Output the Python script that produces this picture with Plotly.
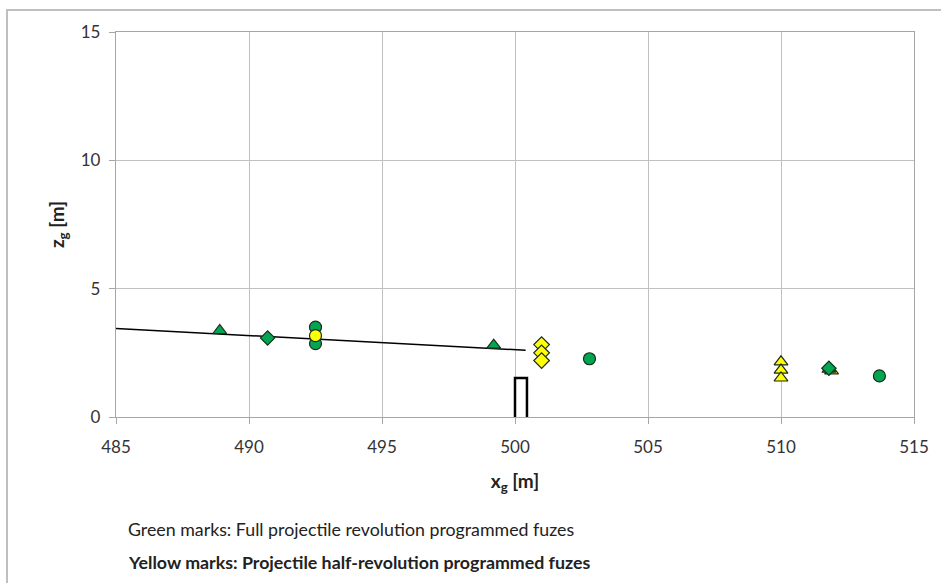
import plotly.graph_objects as go

# --- data ---
green_tri_x = [488.9, 499.2, 511.8]
green_tri_z = [3.37, 2.8, 1.86]
green_dia_x = [490.7, 511.8]
green_dia_z = [3.08, 1.9]
green_cir_x = [492.5, 492.5, 502.8, 513.7]
green_cir_z = [3.5, 2.86, 2.27, 1.6]
yellow_cir_x = [492.5]
yellow_cir_z = [3.17]
yellow_dia_x = [501.0, 501.0, 501.0]
yellow_dia_z = [2.82, 2.5, 2.2]
yellow_tri_x = [510.0, 510.0, 510.0, 511.9]
yellow_tri_z = [2.15, 1.83, 1.52, 1.8]
traj_x = [485.0, 500.4]
traj_z = [3.45, 2.6]
target_x = [500.0, 500.0, 500.45, 500.45]
target_z = [0.0, 1.52, 1.52, 0.0]

GREEN = "#00A651"
YELLOW = "#FFFF00"
EDGE = "#1b2b1b"

fig = go.Figure()
fig.add_trace(go.Scatter(x=traj_x, y=traj_z, mode="lines",
                         line=dict(color="black", width=1.5), showlegend=False))
fig.add_trace(go.Scatter(x=target_x, y=target_z, mode="lines",
                         line=dict(color="black", width=2.5), showlegend=False))

def pts(x, y, sym, col, size):
    fig.add_trace(go.Scatter(x=x, y=y, mode="markers", showlegend=False,
                             marker=dict(symbol=sym, color=col, size=size,
                                         line=dict(color=EDGE, width=1.2))))

pts(yellow_tri_x, yellow_tri_z, "triangle-up", YELLOW, 12)
pts(green_tri_x, green_tri_z, "triangle-up", GREEN, 12)
pts(green_dia_x, green_dia_z, "diamond", GREEN, 11)
pts(yellow_dia_x, yellow_dia_z, "diamond", YELLOW, 12)
pts(green_cir_x, green_cir_z, "circle", GREEN, 12)
pts(yellow_cir_x, yellow_cir_z, "circle", YELLOW, 12)

FONT = "Lato"
axis_common = dict(showgrid=True, gridcolor="#c0c0c0", gridwidth=1.3,
                   showline=True, linecolor="#a6a6a6", linewidth=1.3,
                   ticks="outside", tickcolor="#a6a6a6", ticklen=6,
                   zeroline=False, tickfont=dict(family=FONT, size=17, color="#333333"))

fig.update_xaxes(range=[485, 515], dtick=5, mirror=True, ticklabelstandoff=8,
                 title=dict(text="<b>x<sub>g</sub> [m]</b>", font=dict(family=FONT, size=19, color="#222222"), standoff=19),
                 **axis_common)
fig.update_yaxes(range=[0, 15], dtick=5, mirror=True, ticklabelstandoff=5,
                 title=dict(text="<b>z<sub>g</sub> [m]</b>", font=dict(family=FONT, size=19, color="#222222"), standoff=11),
                 **axis_common)

fig.update_layout(
    width=941, height=583,
    margin=dict(l=116, r=27, t=32, b=166),
    plot_bgcolor="white", paper_bgcolor="white",
    showlegend=False,
    shapes=[dict(type="rect", xref="paper", yref="paper",
                 x0=(7 - 116) / 798, x1=1.06, y0=-0.5, y1=1 + (32 - 10) / 385,
                 line=dict(color="#bfbfbf", width=2), layer="below")],
    annotations=[
        dict(text="Green marks: Full projectile revolution programmed fuzes",
             xref="paper", yref="paper", x=(126 - 116) / 798, y=(417 - 529) / 385,
             xanchor="left", yanchor="middle", showarrow=False,
             font=dict(family=FONT, size=17.8, color="#222222")),
        dict(text="<b>Yellow marks: Projectile half-revolution programmed fuzes</b>",
             xref="paper", yref="paper", x=(126 - 116) / 798, y=(417 - 562) / 385,
             xanchor="left", yanchor="middle", showarrow=False,
             font=dict(family=FONT, size=17.8, color="#222222")),
    ],
)

fig.write_html("out.html")
